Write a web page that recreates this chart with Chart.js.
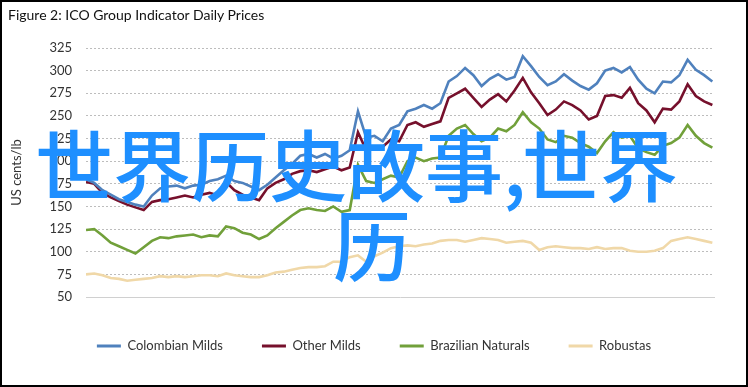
<!DOCTYPE html>
<html>
<head>
<meta charset="utf-8">
<script src="https://cdn.jsdelivr.net/npm/chart.js@4"></script>
<style>
  html, body { margin: 0; padding: 0; background: #fff; }
  #wrap { position: relative; width: 748px; height: 387px; overflow: hidden; background: #fff; }
  #frame { position: absolute; left: 0; top: 0; width: 748px; height: 387px; box-sizing: border-box; border: 2px solid #000; pointer-events: none; z-index: 3; }
  #title { position: absolute; left: 8px; top: 6px; font-family: Lato, "Liberation Sans", sans-serif; font-size: 14px; color: #111; z-index: 2; }
  #cv { position: absolute; left: 0; top: 0; }
  .wm { position: absolute; font-family: "Noto Sans CJK SC", sans-serif; font-weight: 500; font-size: 78px; line-height: 80px; color: #1E8FFF; z-index: 2; pointer-events: none; white-space: nowrap; }
</style>
</head>
<body>
<div id="wrap">
  <canvas id="cv" width="748" height="387"></canvas>
  <div id="title">Figure 2: ICO Group Indicator Daily Prices</div>
  <div class="wm" style="left:35px; top:122px;">世界历史故事,</div>
  <div class="wm" style="left:522px; top:122px;">世界</div>
  <div class="wm" style="left:333px; top:202px;">历</div>
  <div id="frame"></div>
</div>
<script>
// Days since 1 Sep 2020
const days = [0,10,20,30,40,50,60,70,80,90,100,110,120,130,140,150,160,170,180,190,200,210,220,230,240,250,260,270,280,290,300,310,320,330,340,350,360,370,380,390,400,410,420,430,440,450,460,470,480,490,500,510,520,530,540,550,560,570,580,590,600,610,620,630,640,650,660,670,680,690,700,710,720,730,740,750,760];

const colombianMilds = [180,176,168,163,158,155,152,150,162,170,172,173,170,173,174,178,180,184,178,176,172,168,174,182,190,197,206,208,204,208,203,206,212,255,226,228,222,236,240,255,258,262,258,264,288,294,303,295,283,291,296,290,293,316,305,293,284,288,296,289,283,279,286,300,303,298,304,290,280,275,288,287,295,312,301,295,288];
const otherMilds = [177,175,165,160,156,152,149,146,155,157,158,160,162,160,163,165,162,177,168,163,160,157,170,176,180,186,189,190,188,191,194,190,193,232,212,214,216,224,222,240,243,238,241,244,270,275,280,270,260,268,274,266,278,292,276,264,251,257,266,262,256,246,250,272,273,270,281,264,256,243,258,257,266,285,272,266,262];
const brazilianNaturals = [124,125,118,110,106,102,98,105,112,116,115,117,118,119,116,118,117,128,126,121,119,114,118,126,133,140,146,148,146,145,150,144,146,196,178,176,180,184,182,200,204,200,203,204,228,236,240,230,222,226,236,233,240,254,243,236,224,221,228,226,220,216,209,222,232,226,228,214,210,207,217,220,226,240,228,220,215];
const robustas = [75,76,74,71,70,68,69,70,71,73,72,73,72,73,74,74,73,76,74,73,72,72,74,77,78,80,82,83,83,84,89,89,94,96,89,95,99,104,106,107,106,108,109,112,113,113,111,113,115,114,113,110,111,112,110,102,105,106,105,104,104,103,105,103,104,104,101,100,100,101,104,112,114,116,114,112,110];

const tickDays = [0,91,181,273,365,456,546,638,730];
const tickLabels = ['Sep-20','Dec-20','Mar-21','Jun-21','Sep-21','Dec-21','Mar-22','Jun-22','Sep-22'];
const yTicks = [50,75,100,125,150,175,200,225,250,275,300,325];

function pts(vals){ return days.map((d,i)=>({x:d,y:vals[i]})); }

const FONT = "Lato, 'Liberation Sans', sans-serif";
const TXT = '#333333';

new Chart(document.getElementById('cv'), {
  type: 'line',
  data: {
    datasets: [
      {label:'Colombian Milds', data: pts(colombianMilds), borderColor:'#4F81BD', backgroundColor:'#4F81BD'},
      {label:'Other Milds', data: pts(otherMilds), borderColor:'#76102C', backgroundColor:'#76102C'},
      {label:'Brazilian Naturals', data: pts(brazilianNaturals), borderColor:'#71A03A', backgroundColor:'#71A03A'},
      {label:'Robustas', data: pts(robustas), borderColor:'#F0D8A8', backgroundColor:'#F0D8A8'}
    ].map(d => Object.assign(d, {borderWidth:2.6, pointRadius:0, tension:0, fill:false}))
  },
  options: {
    responsive: false,
    animation: false,
    events: [],
    layout: { padding: { left: 0, right: 0, top: 48, bottom: 26.5 } },
    scales: {
      x: {
        type: 'linear', min: 0, max: 762,
        afterBuildTicks: s => { s.ticks = tickDays.map(v => ({value: v})); },
        afterFit: s => { s.height = 3.5; },
        ticks: { autoSkip: false, maxRotation: 0, padding: 10, color: TXT, font: {family: FONT, size: 13},
          callback: (v) => { const i = tickDays.indexOf(v); return i >= 0 ? tickLabels[i] : ''; } },
        grid: { display: false, drawTicks: false },
        border: { display: true, color: '#d0d0d0', width: 1 }
      },
      y: {
        min: 50, max: 325,
        afterBuildTicks: s => { s.ticks = yTicks.map(v => ({value: v})); },
        afterFit: s => { s.width = 86; },
        ticks: { padding: 14, color: TXT, font: {family: FONT, size: 13} },
        grid: { color: '#bdbdbd', lineWidth: 1, drawTicks: false },
        border: { display: false, dash: [2,2] },
        title: { display: true, text: 'US cents/lb', color: TXT, font: {family: FONT, size: 13}, padding: {top: 9, bottom: 0} }
      },
      yRight: {
        position: 'right', min: 50, max: 325,
        afterFit: s => { s.width = 34; },
        ticks: { display: false },
        grid: { display: false, drawTicks: false },
        border: { display: false }
      }
    },
    plugins: {
      tooltip: { enabled: false },
      legend: {
        position: 'bottom',
        maxHeight: 60,
        labels: {
          boxWidth: 24, boxHeight: 3, padding: 39, color: TXT, font: {family: FONT, size: 13},
          generateLabels: (chart) => Chart.defaults.plugins.legend.labels.generateLabels(chart).map(l => Object.assign(l, {lineWidth: 0}))
        }
      }
    }
  }
});
</script>
</body>
</html>
